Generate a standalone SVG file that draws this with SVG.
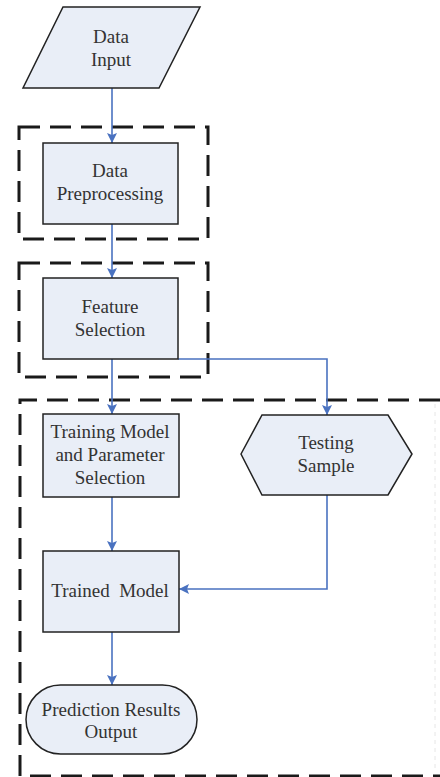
<svg xmlns="http://www.w3.org/2000/svg" width="440" height="777" viewBox="0 0 440 777">
<defs>
<marker id="arr" viewBox="0 0 10 10" refX="10" refY="5" markerWidth="10" markerHeight="10" markerUnits="userSpaceOnUse" orient="auto">
<path d="M0,0 L10,5 L0,10 L2,5 Z" fill="#4a72c0"/>
</marker>
</defs>
<style>
.node{fill:#e9eef7;stroke:#222;stroke-width:1.5}
.dash{fill:none;stroke:#1a1a1a;stroke-width:3;stroke-dasharray:21 10}
.conn{fill:none;stroke:#4a72c0;stroke-width:1.6}
.t{font-family:'Liberation Serif','Times New Roman',Times,serif;font-size:19px;fill:#333;text-anchor:middle}
</style>
<rect width="440" height="777" fill="#fff"/>
<g id="groups">
<rect class="dash" x="19" y="127" width="189" height="112"/>
<rect class="dash" x="19" y="263" width="189" height="114"/>
<path class="dash" d="M440,400 H20 V776 H440"/>
<line x1="435" y1="404" x2="435" y2="772" stroke="#e6e6e6" stroke-width="1" stroke-dasharray="4 4"/>
</g>
<g id="connectors">
<line class="conn" x1="112" y1="88" x2="112" y2="143" marker-end="url(#arr)"/>
<line class="conn" x1="112" y1="224" x2="112" y2="278" marker-end="url(#arr)"/>
<line class="conn" x1="112" y1="359" x2="112" y2="414" marker-end="url(#arr)"/>
<path class="conn" d="M178,359 H327 V415" marker-end="url(#arr)"/>
<line class="conn" x1="112" y1="497" x2="112" y2="551" marker-end="url(#arr)"/>
<path class="conn" d="M327,495 V589 H179" marker-end="url(#arr)"/>
<line class="conn" x1="112" y1="632" x2="112" y2="685" marker-end="url(#arr)"/>
</g>
<g id="data-input">
<polygon class="node" points="63,7 200,7 159,88 23,88"/>
<text class="t" x="111" y="43">Data</text>
<text class="t" x="111" y="66">Input</text>
</g>
<g id="data-preprocessing">
<rect class="node" x="43" y="143" width="135" height="81"/>
<text class="t" x="110" y="177">Data</text>
<text class="t" x="110" y="200">Preprocessing</text>
</g>
<g id="feature-selection">
<rect class="node" x="43" y="278" width="135" height="81"/>
<text class="t" x="110" y="313">Feature</text>
<text class="t" x="110" y="336">Selection</text>
</g>
<g id="training-model">
<rect class="node" x="43" y="414" width="136" height="83"/>
<text class="t" x="110" y="438">Training Model</text>
<text class="t" x="110" y="461">and Parameter</text>
<text class="t" x="110" y="484">Selection</text>
</g>
<g id="testing-sample">
<polygon class="node" points="241,454 262,415 388,415 412,454 388,495 262,495"/>
<text class="t" x="326" y="449">Testing</text>
<text class="t" x="326" y="472">Sample</text>
</g>
<g id="trained-model">
<rect class="node" x="43" y="551" width="136" height="81"/>
<text class="t" x="110" y="597" xml:space="preserve">Trained  Model</text>
</g>
<g id="prediction-output">
<rect class="node" x="26" y="685" width="171" height="69" rx="34.5" ry="34.5"/>
<text class="t" x="111" y="716">Prediction Results</text>
<text class="t" x="111" y="738">Output</text>
</g>
</svg>
